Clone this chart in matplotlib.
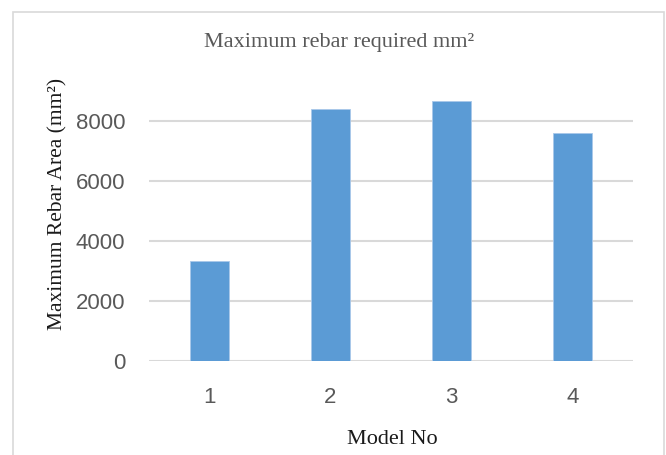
import matplotlib
matplotlib.use("Agg")
import matplotlib.pyplot as plt
from matplotlib.patches import Rectangle

categories = ["1", "2", "3", "4"]
values = [3320, 8380, 8670, 7600]
yticks = [0, 2000, 4000, 6000, 8000]

W, H = 666, 455
fig = plt.figure(figsize=(W / 100, H / 100), dpi=100)
fig.patch.set_facecolor("white")

# outer chart border
fig.add_artist(Rectangle((13 / W, -0.05), (664 - 13) / W, (H - 12) / H + 0.05,
                         transform=fig.transFigure, fill=False,
                         edgecolor="#d9d9d9", linewidth=1.2))

left, right = 149 / W, 633 / W
bottom = (H - 360.7) / H
top = (H - 96.7) / H
ax = fig.add_axes([left, bottom, right - left, top - bottom])

x = range(len(categories))
ax.bar(x, values, width=0.315, color="#5b9bd5", edgecolor="#a9c8ea",
       linewidth=0.6, zorder=3)
ax.set_xlim(-0.5, len(categories) - 0.5)
ax.set_ylim(0, 8800)
ax.set_yticks(yticks)
ax.set_xticks(list(x))
ax.set_xticklabels(categories)
ax.yaxis.grid(True, color="#d9d9d9", linewidth=1.5, zorder=0)
ax.set_axisbelow(True)
for s in ax.spines.values():
    s.set_visible(False)
ax.tick_params(axis="both", length=0, labelsize=16, labelcolor="#595959")
ax.tick_params(axis="x", pad=19)
ax.tick_params(axis="y", pad=17)
for lab in ax.get_xticklabels() + ax.get_yticklabels():
    lab.set_fontfamily("Liberation Sans")

fig.text(339 / W, 1 - 43 / H, "Maximum rebar required mm²", ha="center",
         va="center", fontsize=16, color="#595959", family="Liberation Serif")
fig.text(392 / W, 1 - 440 / H, "Model No", ha="center", va="center",
         fontsize=16, color="#1a1a1a", family="Liberation Serif")
fig.text(58 / W, 1 - 204 / H, "Maximum Rebar Area (mm²)", ha="center",
         va="center", rotation=90, fontsize=15.5, color="#1a1a1a",
         family="Liberation Serif")

fig.savefig("out.png", dpi=100)
